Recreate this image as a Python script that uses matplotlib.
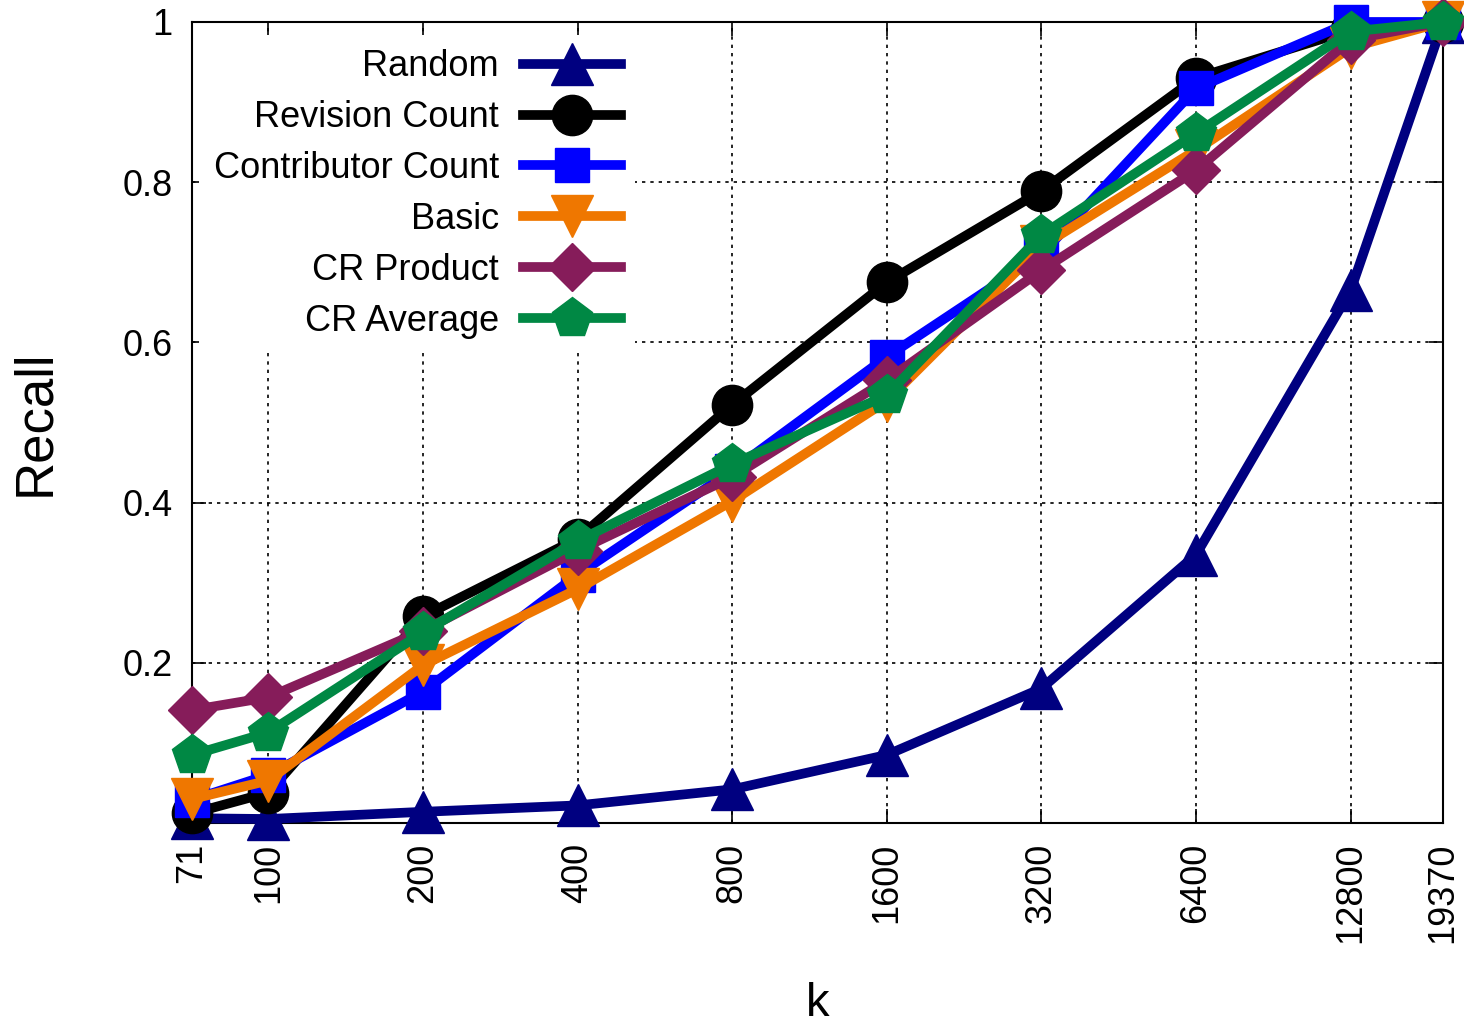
import matplotlib
matplotlib.use("Agg")
from matplotlib import pyplot as plt

plt.rcParams['font.family'] = ['Liberation Sans', 'DejaVu Sans']

k = [71, 100, 200, 400, 800, 1600, 3200, 6400, 12800, 19370]
k_labels = ['71', '100', '200', '400', '800', '1600', '3200', '6400', '12800', '19370']

random_r = [0.006, 0.005, 0.014, 0.022, 0.042, 0.085, 0.168, 0.335, 0.665, 1.0]
revision_count = [0.012, 0.038, 0.258, 0.355, 0.522, 0.675, 0.789, 0.93, 0.99, 1.0]
contributor_count = [0.029, 0.06, 0.164, 0.31, 0.44, 0.582, 0.71, 0.917, 1.0, 1.0]
basic = [0.03, 0.053, 0.197, 0.292, 0.402, 0.527, 0.72, 0.84, 0.968, 1.0]
cr_product = [0.141, 0.157, 0.24, 0.34, 0.432, 0.553, 0.69, 0.815, 0.978, 1.0]
cr_average = [0.085, 0.113, 0.238, 0.352, 0.448, 0.534, 0.734, 0.861, 0.988, 1.0]

series = [
    ("Random", random_r, '#000080', '^', 30),
    ("Revision Count", revision_count, 'black', 'o', 29),
    ("Contributor Count", contributor_count, '#0000ff', 's', 25),
    ("Basic", basic, '#ef7700', 'v', 30),
    ("CR Product", cr_product, '#861c5a', 'D', 24),
    ("CR Average", cr_average, '#008844', 'p', 30),
]

fig = plt.figure(figsize=(14.64, 10.27), dpi=100)
ax = fig.add_axes([0.1311, 0.1986, 0.8546, 0.78])

for name, vals, col, mk, ms in series:
    ax.plot(k, vals, color=col, marker=mk, markersize=ms, linewidth=7,
            label=name, clip_on=False, zorder=3)

ax.set_xscale('log')
ax.set_xlim(71, 19370)
ax.set_ylim(0, 1)
ax.set_xticks(k)
ax.set_xticklabels(k_labels, rotation=90)
ax.xaxis.set_minor_locator(matplotlib.ticker.NullLocator())
ax.set_yticks([0.2, 0.4, 0.6, 0.8, 1.0])
ax.set_yticklabels(['0.2', '0.4', '0.6', '0.8', '1'])

ax.grid(True, color='black', linestyle=(0, (2, 3)), linewidth=1.2, zorder=1)
ax.set_axisbelow(True)
ax.tick_params(axis='both', direction='in', length=10, width=1.2,
               top=True, right=True, labelsize=26, pad=14)
for sp in ax.spines.values():
    sp.set_linewidth(1.5)

ax.set_xlabel('k', fontsize=34, labelpad=28)
ax.set_ylabel('Recall', fontsize=38, labelpad=45)

# legend sits inside the top-left corner, text before the line sample
leg = ax.legend(loc='upper left', bbox_to_anchor=(0.0, 0.993), markerfirst=False,
                fontsize=26, handlelength=2.72, handletextpad=0.66,
                labelspacing=0.44, frameon=True, fancybox=False,
                borderaxespad=0.2)
leg.get_frame().set_facecolor('white')
leg.get_frame().set_edgecolor('none')
leg.get_frame().set_alpha(1.0)
leg.set_zorder(2)

fig.savefig('out.png', dpi=100, facecolor='white')
